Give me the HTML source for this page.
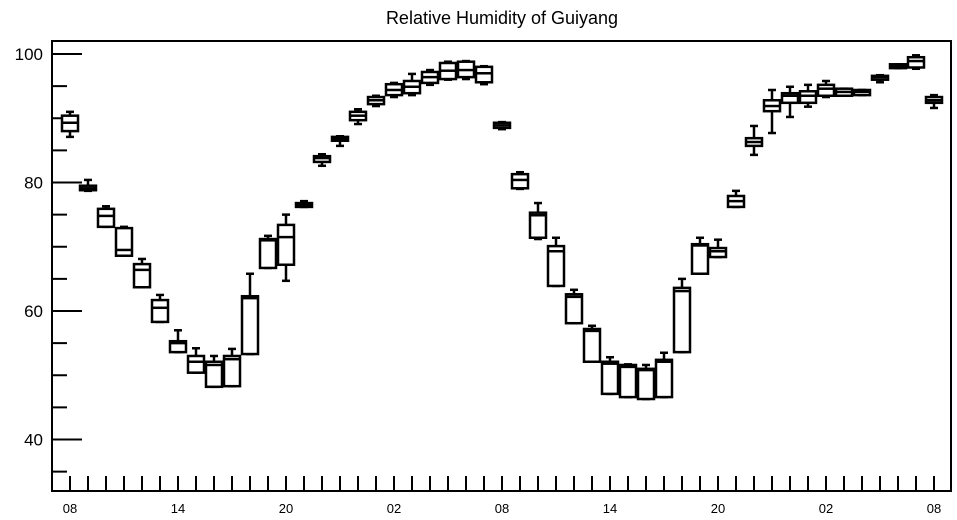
<!DOCTYPE html>
<html><head><meta charset="utf-8"><style>
html,body{margin:0;padding:0;background:#fff}
svg{display:block;font-family:"Liberation Sans",sans-serif}
</style></head><body>
<svg id="chart" width="957" height="520" viewBox="0 0 957 520">
<text x="502" y="24" text-anchor="middle" font-size="18">Relative Humidity of Guiyang</text>
<rect x="52" y="41" width="899" height="450" fill="none" stroke="#000" stroke-width="2"/>
<g id="axes"></g><g id="boxes"></g>
</svg>
<script>
const xLabels = ["08","14","20","02","08","14","20","02","08"];
const yTicks = [40,60,80,100];
const mins = [87.1,78.7,73.1,68.6,63.7,58.3,53.6,50.4,48.2,48.3,53.3,66.7,64.7,76.2,82.6,85.7,89.1,91.9,93.3,93.6,95.2,96.0,96.1,95.3,88.3,79.0,71.2,63.9,58.1,52.1,47.1,46.6,46.3,46.6,53.6,65.8,68.4,76.2,84.3,87.7,90.2,91.8,93.3,93.5,93.6,95.6,97.8,97.7,91.6];
const q1s = [88.0,78.8,73.1,68.6,63.7,58.3,53.6,50.4,48.2,48.3,53.3,66.7,67.2,76.2,83.2,86.5,89.7,92.2,93.6,93.9,95.5,96.1,96.4,95.6,88.5,79.1,71.4,63.9,58.1,52.1,47.1,46.6,46.3,46.6,53.6,65.8,68.4,76.2,85.7,91.1,92.4,92.4,93.5,93.5,93.6,96.0,97.8,97.9,92.4];
const medians = [89.3,79.1,74.8,69.5,66.4,60.5,55.0,52.1,51.6,52.5,62.0,71.0,71.5,76.5,83.8,86.8,90.4,92.8,94.4,94.9,96.4,97.4,97.5,97.0,88.9,80.4,74.9,69.3,62.2,56.9,51.8,51.3,50.8,52.1,63.1,70.2,69.3,77.1,86.3,91.9,93.5,93.5,94.6,94.1,94.1,96.4,98.1,98.9,92.8];
const q3s = [90.4,79.5,75.9,72.9,67.3,61.7,55.3,53.0,52.1,53.0,62.3,71.2,73.4,76.8,84.1,87.1,91.0,93.3,95.3,95.8,97.2,98.6,98.8,98.0,89.3,81.3,75.3,70.1,62.6,57.2,52.1,51.6,51.0,52.4,63.6,70.4,69.8,77.9,86.9,92.8,93.9,94.2,95.2,94.6,94.4,96.6,98.4,99.5,93.3];
const maxs = [91.0,80.4,76.3,73.1,68.1,62.5,57.0,54.2,53.0,54.1,65.8,71.7,75.0,77.1,84.4,87.2,91.4,93.5,95.5,96.9,97.5,98.8,98.9,98.1,89.4,81.6,76.8,71.4,63.3,57.7,52.8,51.7,51.6,53.5,65.0,71.4,71.1,78.7,88.8,94.4,94.9,95.2,95.8,94.6,94.4,96.7,98.4,99.8,93.6];

const NS="http://www.w3.org/2000/svg";
const yS = v => 54 + (100 - v) * 6.425;
const xS = i => 70 + i * 18;
function mk(tag, attrs, parent){const e=document.createElementNS(NS,tag);for(const k in attrs)e.setAttribute(k,attrs[k]);parent.appendChild(e);return e;}
const axes=document.getElementById('axes'), boxes=document.getElementById('boxes');
// y ticks
for(let v=35; v<=100; v+=5){
  const major = yTicks.includes(v);
  const t=mk('line',{x1:52,x2:major?82:67,y1:yS(v),y2:yS(v),stroke:'#000','stroke-width':2},axes);
  
  
}
yTicks.forEach(v=>{
  const t=mk('text',{x:43,y:yS(v)+6,'text-anchor':'end','font-size':17},axes);
  t.textContent=v;
  
  
});
// x ticks
for(let i=0;i<mins.length;i++){
  const t=mk('line',{x1:xS(i),x2:xS(i),y1:491,y2:476,stroke:'#000','stroke-width':2},axes);
  
  
}
xLabels.forEach((l,j)=>{
  const t=mk('text',{x:xS(j*6),y:513,'text-anchor':'middle','font-size':13},axes);
  t.textContent=l;
  
  
});
// boxes
for(let i=0;i<mins.length;i++){
  const g=mk('g',{stroke:'#000','stroke-width':2.5,fill:'none'},boxes);
  
  
  const x=xS(i);
  mk('line',{x1:x,x2:x,y1:yS(maxs[i]),y2:yS(q3s[i])},g);
  mk('line',{x1:x,x2:x,y1:yS(q1s[i]),y2:yS(mins[i])},g);
  mk('line',{x1:x-4,x2:x+4,y1:yS(maxs[i]),y2:yS(maxs[i])},g);
  mk('line',{x1:x-4,x2:x+4,y1:yS(mins[i]),y2:yS(mins[i])},g);
  const h=Math.max(2,yS(q1s[i])-yS(q3s[i]));
  mk('rect',{x:x-8,y:yS(q3s[i]),width:16,height:h,fill:'#fff'},g);
  mk('line',{x1:x-8,x2:x+8,y1:yS(medians[i]),y2:yS(medians[i])},g);
}
</script>
</body></html>
